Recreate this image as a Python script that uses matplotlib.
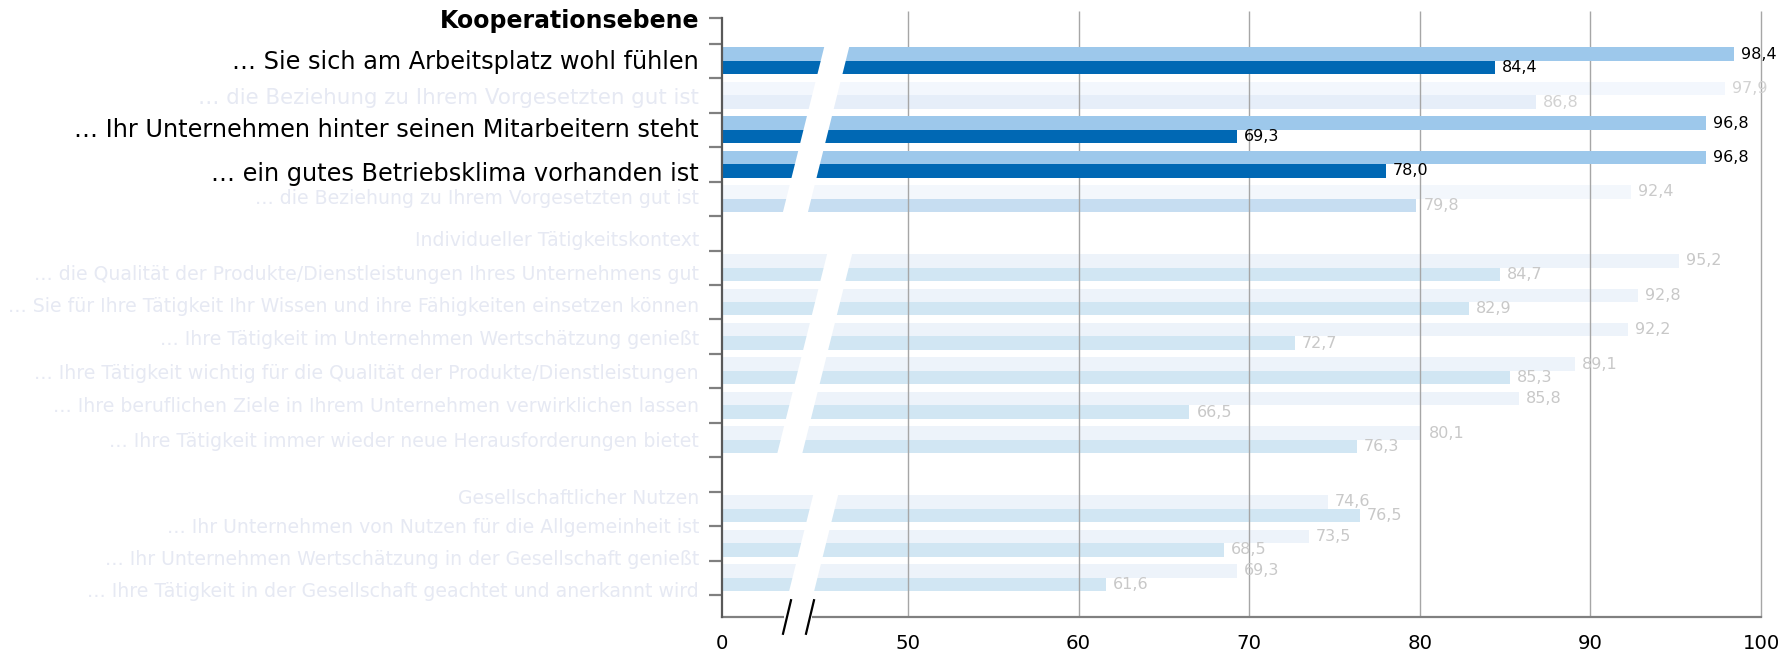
import numpy as np
import matplotlib
matplotlib.use("Agg")
import matplotlib.pyplot as plt
from matplotlib.patches import Polygon, Rectangle
from matplotlib.transforms import blended_transform_factory

plt.rcParams['font.family'] = ['DejaVu Sans']

# rows from top to bottom, one slot each
labels = [
    "Kooperationsebene",
    "… Sie sich am Arbeitsplatz wohl fühlen",
    "… die Beziehung zu Ihrem Vorgesetzten gut ist",
    "… Ihr Unternehmen hinter seinen Mitarbeitern steht",
    "… ein gutes Betriebsklima vorhanden ist",
    "… die Beziehung zu Ihrem Vorgesetzten gut ist",
    "Individueller Tätigkeitskontext",
    "… die Qualität der Produkte/Dienstleistungen Ihres Unternehmens gut",
    "… Sie für Ihre Tätigkeit Ihr Wissen und ihre Fähigkeiten einsetzen können",
    "… Ihre Tätigkeit im Unternehmen Wertschätzung genießt",
    "… Ihre Tätigkeit wichtig für die Qualität der Produkte/Dienstleistungen",
    "… Ihre beruflichen Ziele in Ihrem Unternehmen verwirklichen lassen",
    "… Ihre Tätigkeit immer wieder neue Herausforderungen bietet",
    "Gesellschaftlicher Nutzen",
    "… Ihr Unternehmen von Nutzen für die Allgemeinheit ist",
    "… Ihr Unternehmen Wertschätzung in der Gesellschaft genießt",
    "… Ihre Tätigkeit in der Gesellschaft geachtet und anerkannt wird",
]
nan = np.nan
top_values = [nan, 98.4, 97.9, 96.8, 96.8, 92.4, nan, 95.2, 92.8, 92.2, 89.1, 85.8, 80.1,
              nan, 74.6, 73.5, 69.3]
bottom_values = [nan, 84.4, 86.8, 69.3, 78.0, 79.8, nan, 84.7, 82.9, 72.7, 85.3, 66.5, 76.3,
                 nan, 76.5, 68.5, 61.6]
# kind of row: header / highlighted / faded variants
row_kind = ["head_hi", "hi", "fade_a", "hi", "hi", "fade_b", "head", "base", "base", "base",
            "base", "base", "base", "head", "base", "base", "base"]
x_ticks = [0, 50, 60, 70, 80, 90, 100]

# styles
styles = {
    "hi":     dict(top="#9DC8EB", bot="#0068B4", val="#000000", lab="#000000", size=17.3, z=3),
    "fade_a": dict(top="#F3F7FD", bot="#E6EEF9", val="#D2D2D2", lab="#E6E9F3", size=15.4, z=1),
    "fade_b": dict(top="#F3F7FC", bot="#C6DDF1", val="#CACACA", lab="#E6E9F3", size=13.6, z=1),
    "base":   dict(top="#EDF3FA", bot="#D1E6F3", val="#C8C8C8", lab="#E6E9F3", size=13.6, z=1),
    "head":   dict(lab="#E6E9F3", size=13.6),
    "head_hi": dict(lab="#000000", size=17.0),
}
label_nudge = [-0.24, -0.05, 0.0, -0.07, 0.2, -0.07, 0.14, 0.15, 0.08, 0.04, 0.0, -0.02, 0.0,
               0.65, 0.47, 0.42, 0.35]

# broken axis: 0..50 squeezed into a short stretch
W0 = 10.9
def fwd(v):
    v = np.asarray(v, dtype=float)
    return np.where(v >= 50, v - 50 + W0, v * W0 / 50)
def inv(u):
    u = np.asarray(u, dtype=float)
    return np.where(u >= W0, u + 50 - W0, u * 50 / W0)

W, H = 1787, 656
fig = plt.figure(figsize=(W / 100, H / 100), dpi=100)
ax = fig.add_axes([722 / W, 1 - 617 / H, 1039 / W, 599 / H])
ax.set_xscale('function', functions=(fwd, inv))
ax.set_xlim(0, 100)
ax.set_ylim(17.14, -0.25)

y = np.arange(len(labels))
h = 0.39
for i in y:
    kind = row_kind[i]
    if kind.startswith("head"):
        continue
    st = styles[kind]
    for val, dy, col in ((top_values[i], -0.2, st["top"]), (bottom_values[i], 0.19, st["bot"])):
        ax.barh(i + dy, val, height=h, left=0, color=col, zorder=st["z"], linewidth=0)
        ax.annotate(f"{val:.1f}".replace(".", ","), (val, i + dy), xytext=(5, 0),
                    textcoords="offset points", va="center", ha="left",
                    fontsize=11.5, color=st["val"], zorder=5)

# gridlines (slightly above the plot top, like the original)
ax.vlines(x_ticks[1:], 17.14, -0.45, colors="#A6A6A6", linewidth=1.0, zorder=2, clip_on=False)

# axis styling
for s in ("top", "right"):
    ax.spines[s].set_visible(False)
ax.spines["left"].set_color("#595959")
ax.spines["left"].set_linewidth(1.6)
ax.spines["bottom"].set_color("#808080")
ax.spines["bottom"].set_linewidth(1.6)
ax.spines["left"].set_zorder(6)

ax.set_xticks(x_ticks)
ax.set_xticklabels([str(t) for t in x_ticks])
ax.tick_params(axis="x", length=0, pad=12.5, labelsize=14.2)
ax.xaxis.set_minor_locator(plt.NullLocator())

ax.set_yticks(y + np.array(label_nudge))
ax.set_yticklabels(labels)
ax.tick_params(axis="y", which="major", length=0, pad=16.5)
ax.set_yticks([-0.25] + list(np.arange(0.5, 16.6, 1.0)), minor=True)
ax.tick_params(axis="y", which="minor", length=9.4, width=1.6, color="#808080", direction="out")
for tl, kind in zip(ax.get_yticklabels(), row_kind):
    st = styles[kind]
    tl.set_color(st["lab"])
    tl.set_fontsize(st["size"])
    if kind == "head_hi":
        tl.set_fontweight("bold")

# white slanted bands marking the break in each group
tr = blended_transform_factory(ax.transAxes, ax.transData)
px_w = 1039.0
slot_px = 599.0 / 17.39
for y0, y1, xl in ((0.5, 5.5, 825), (6.5, 12.5, 828), (13.5, 16.5, 814)):
    xa = (xl - 722) / px_w
    shift = 0.25 * (y1 - y0) * slot_px / px_w
    bw = 25 / px_w
    band = Polygon([(xa, y0), (xa + bw, y0), (xa + bw - shift, y1), (xa - shift, y1)],
                   closed=True, transform=tr, facecolor="white", edgecolor="none", zorder=4)
    ax.add_patch(band)

# break marks on the x axis
ax.add_patch(Rectangle((62 / px_w, -0.01), 28 / px_w, 0.02, transform=ax.transAxes,
                       facecolor="white", edgecolor="none", clip_on=False, zorder=7))
for x0 in (61, 84):
    ax.plot([x0 / px_w, (x0 + 8) / px_w], [-0.028, 0.028], transform=ax.transAxes,
            color="black", linewidth=1.6, clip_on=False, zorder=8)

fig.savefig("out.png", dpi=100)
